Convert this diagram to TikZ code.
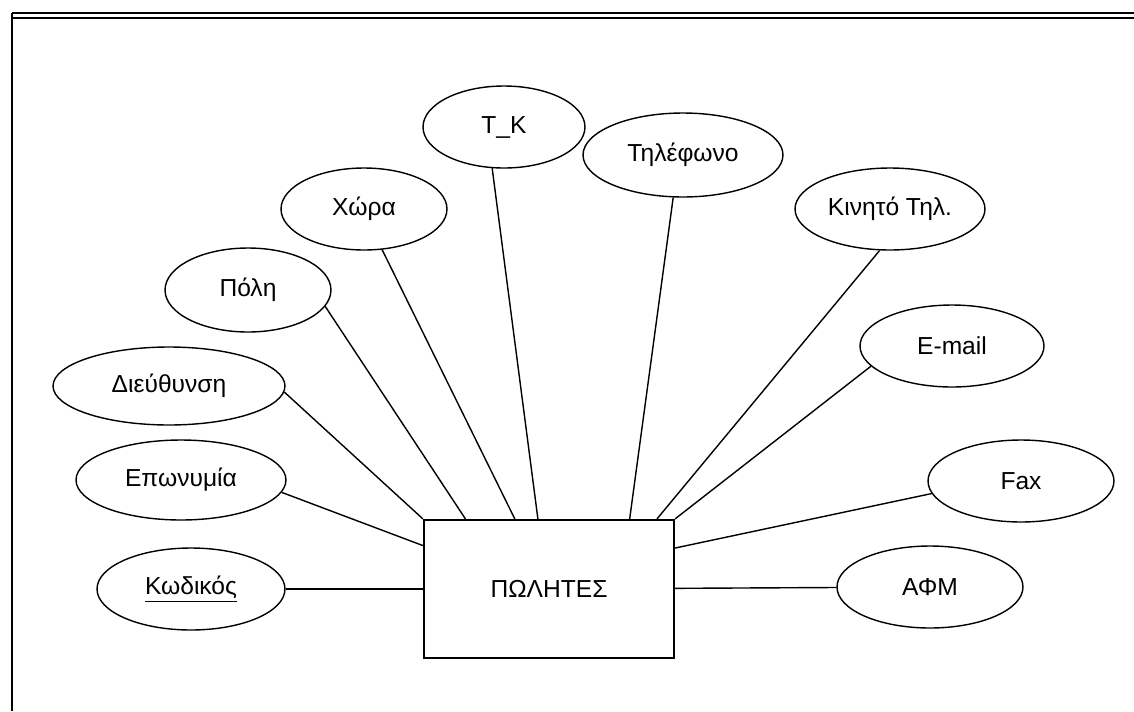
\documentclass[tikz,border=0pt]{standalone}
\usepackage{fontspec}
\setmainfont{Liberation Sans}
\usetikzlibrary{shapes.geometric}

\begin{document}
\begin{tikzpicture}[
  x=0.02cm, y=-0.02cm,
  attr/.style={draw, ellipse, line width=0.8pt, inner sep=0pt, font=\fontsize{14}{16}\selectfont},
  ent/.style={draw, rectangle, line width=1.3pt, minimum width=5cm, minimum height=2.76cm, font=\fontsize{14}{16}\selectfont},
  conn/.style={line width=0.8pt},
  frm/.style={line width=0.7pt}
]
\useasboundingbox[fill=white] (0,0) rectangle (1134,711);

% --- Frame ---
\draw[frm] (12,13) -- (1134,13);
\draw[frm, line width=1.6pt] (12,18) -- (1134,18);
\draw[frm] (12,13) -- (12,711);

% --- Entity ---
\node[ent] (pwl) at (549,589) {ΠΩΛΗΤΕΣ};

% --- Attributes ---
\node[attr, minimum width=3.24cm, minimum height=1.64cm] (tk) at (504,127) {T\_K};
\node[attr, minimum width=4cm, minimum height=1.68cm] (til) at (683,155) {Τηλέφωνο};
\node[attr, minimum width=3.32cm, minimum height=1.64cm] (xwr) at (364,209) {Χώρα};
\node[attr, minimum width=3.8cm, minimum height=1.64cm] (kin) at (890,209) {Κινητό Τηλ.};
\node[attr, minimum width=3.32cm, minimum height=1.68cm] (poli) at (248,290) {Πόλη};
\node[attr, minimum width=3.68cm, minimum height=1.64cm] (email) at (952,346) {E-mail};
\node[attr, minimum width=4.64cm, minimum height=1.56cm] (dieu) at (169,386) {Διεύθυνση};
\node[attr, minimum width=4.2cm, minimum height=1.6cm] (epon) at (181,480) {Επωνυμία};
\node[attr, minimum width=3.72cm, minimum height=1.64cm] (fax) at (1021,481) {Fax};
\node[attr, minimum width=3.76cm, minimum height=1.64cm] (kod) at (191,589) {\underline{Κωδικός}};
\node[attr, minimum width=3.72cm, minimum height=1.64cm] (afm) at (930,587) {ΑΦΜ};

% --- Attributes -> entity ---
\draw[conn] (kod) -- (pwl);
\draw[conn] (afm) -- (pwl);
\draw[conn] (epon.-7) -- (pwl.161.4);
\draw[conn] (dieu.-3) -- (pwl.north west);
\draw[conn] (poli.-12) -- (pwl.140);
\draw[conn] (xwr.-66) -- (pwl.116.2);
\draw[conn] (tk.-106) -- (pwl.99.9);
\draw[conn] (til.-103.7) -- (pwl.41.5);
\draw[conn] (kin.-104) -- (pwl.33.3);
\draw[conn] (email.194.7) -- (pwl.north east);
\draw[conn] (fax.188.6) -- (pwl.18.6);

\end{tikzpicture}
\end{document}
